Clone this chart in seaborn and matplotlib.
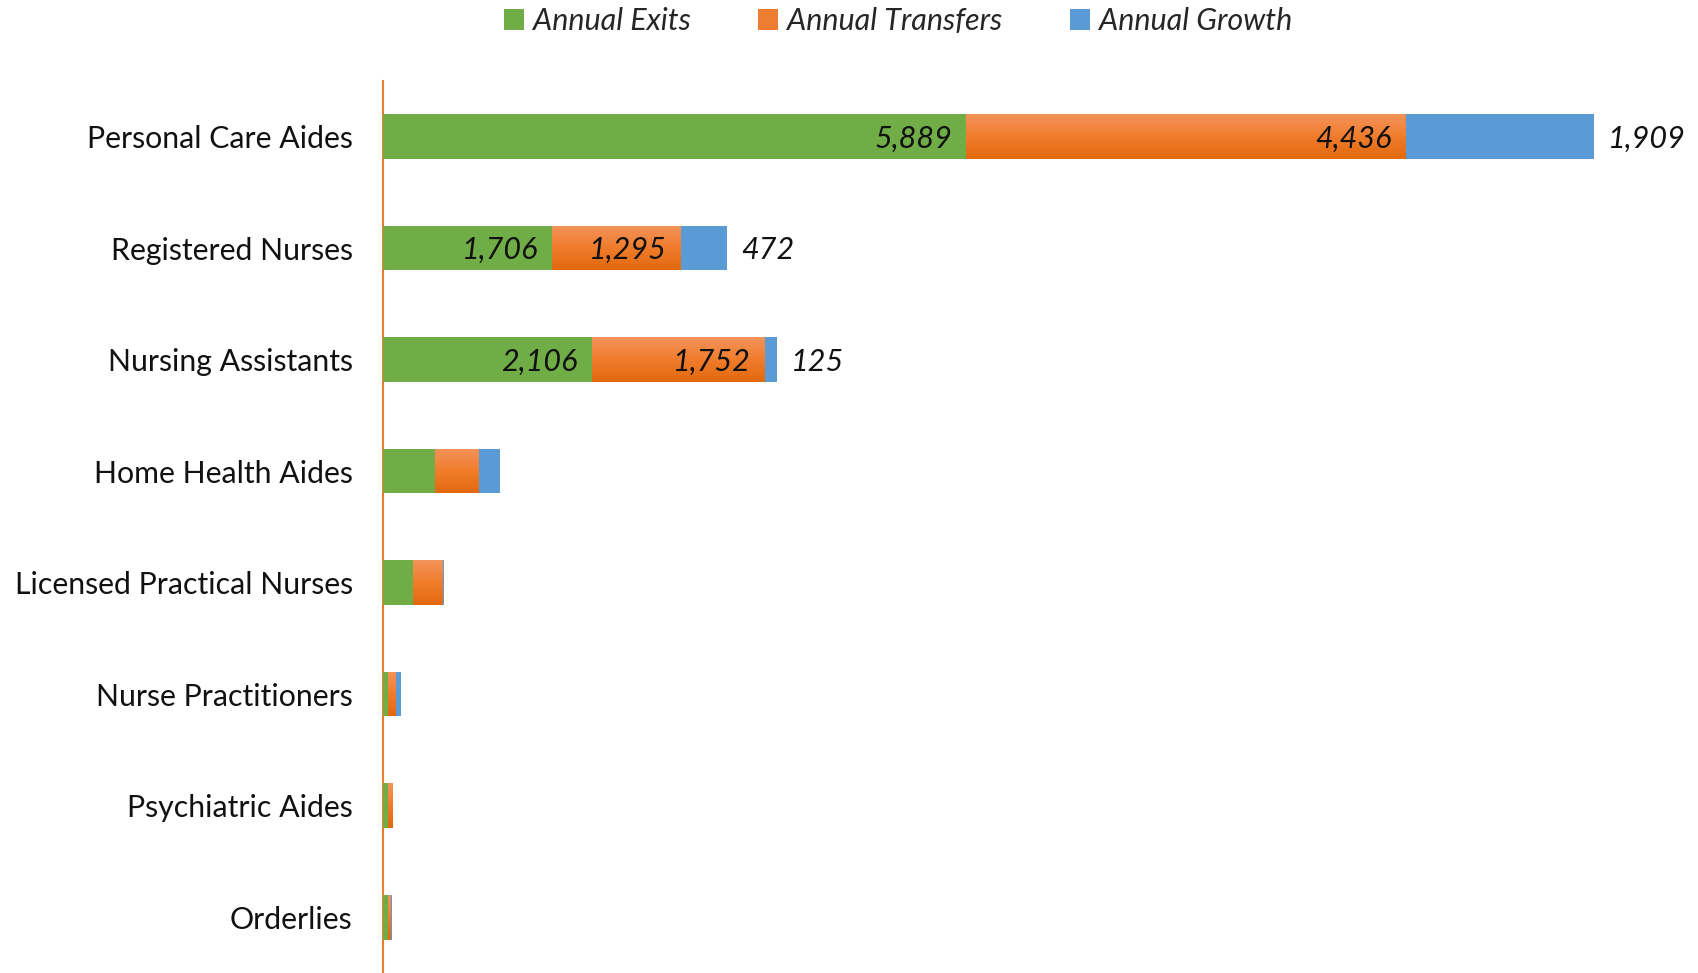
import matplotlib
matplotlib.use("Agg")
import matplotlib.pyplot as plt
import seaborn as sns
import pandas as pd
import numpy as np
from matplotlib.colors import LinearSegmentedColormap

categories = ["Personal Care Aides", "Registered Nurses", "Nursing Assistants",
              "Home Health Aides", "Licensed Practical Nurses", "Nurse Practitioners",
              "Psychiatric Aides", "Orderlies"]
exits = [5889, 1706, 2106, 522, 303, 50, 50, 50]
transfers = [4436, 1295, 1752, 445, 300, 78, 44, 30]
growth = [1909, 472, 125, 212, 10, 51, 7, 5]
labeled_rows = 3

sns.set_theme(style="white")
plt.rcParams['font.family'] = ['Lato', 'DejaVu Sans']

GREEN = "#70AD47"
ORANGE = "#ED7D31"
BLUE = "#5B9BD5"

df = pd.DataFrame({"cat": categories, "exits": exits,
                   "transfers": transfers, "growth": growth})
df["c1"] = df["exits"]
df["c2"] = df["exits"] + df["transfers"]
df["c3"] = df["c2"] + df["growth"]

fig = plt.figure(figsize=(16.98, 9.73), dpi=100)
ax = fig.add_axes([0.2257, 0.0, 0.752, 0.917])

sns.barplot(data=df, y="cat", x="c3", color=BLUE, orient="h", width=0.4,
            ax=ax, saturation=1, linewidth=0, label="Annual Growth")
sns.barplot(data=df, y="cat", x="c2", color=ORANGE, orient="h", width=0.4,
            ax=ax, saturation=1, linewidth=0, label="Annual Transfers")
sns.barplot(data=df, y="cat", x="c1", color=GREEN, orient="h", width=0.4,
            ax=ax, saturation=1, linewidth=0, label="Annual Exits")

ax.set_xlim(0, 12900)
ax.set_ylim(7.5, -0.5)

# vertical gradient on orange bars
cmap = LinearSegmentedColormap.from_list("og", ["#F4935A", "#F07C2C", "#E2690F"])
grad = np.linspace(0, 1, 64).reshape(-1, 1)
for patch in ax.containers[1]:
    x0, y0 = patch.get_x(), patch.get_y()
    w, h = patch.get_width(), patch.get_height()
    im = ax.imshow(grad, cmap=cmap, aspect="auto", extent=(x0, x0 + w, y0 + h, y0),
                   origin="upper", zorder=patch.get_zorder(), interpolation="bilinear")
    im.set_clip_path(patch)
# redraw green on top of gradient
for patch in ax.containers[2]:
    patch.set_zorder(3)
ax.set_xlim(0, 12900)
ax.set_ylim(7.5, -0.5)
ax.set_aspect("auto")

fs = 22
for i in range(labeled_rows):
    ax.annotate(f"{exits[i]:,}", (df["c1"][i], i), xytext=(-10, -1.5),
                textcoords="offset points", ha="right", va="center",
                fontsize=fs, style="italic", color="#111111", zorder=5)
    ax.annotate(f"{transfers[i]:,}", (df["c2"][i], i), xytext=(-10, -1.5),
                textcoords="offset points", ha="right", va="center",
                fontsize=fs, style="italic", color="#111111", zorder=5)
    ax.annotate(f"{growth[i]:,}", (df["c3"][i], i), xytext=(10, -1.5),
                textcoords="offset points", ha="left", va="center",
                fontsize=fs, style="italic", color="#111111", zorder=5)

ax.set_xlabel("")
ax.set_ylabel("")
ax.set_xticks([])
for s in ["top", "right", "bottom"]:
    ax.spines[s].set_visible(False)
ax.spines["left"].set_color(ORANGE)
ax.spines["left"].set_linewidth(1.5)
ax.tick_params(axis="y", length=0, pad=22, labelsize=21.8, labelcolor="#111111")

handles, labels = ax.get_legend_handles_labels()
order = [labels.index("Annual Exits"), labels.index("Annual Transfers"), labels.index("Annual Growth")]
leg = fig.legend([handles[k] for k in order], [labels[k] for k in order],
                 loc="center", bbox_to_anchor=(0.529, 0.978), ncol=3, frameon=False,
                 prop={"size": 22, "style": "italic"}, handlelength=0.65, handleheight=0.65,
                 handletextpad=0.3, columnspacing=2.2)
if ax.get_legend():
    ax.get_legend().remove()

fig.savefig("out.png", dpi=100)
